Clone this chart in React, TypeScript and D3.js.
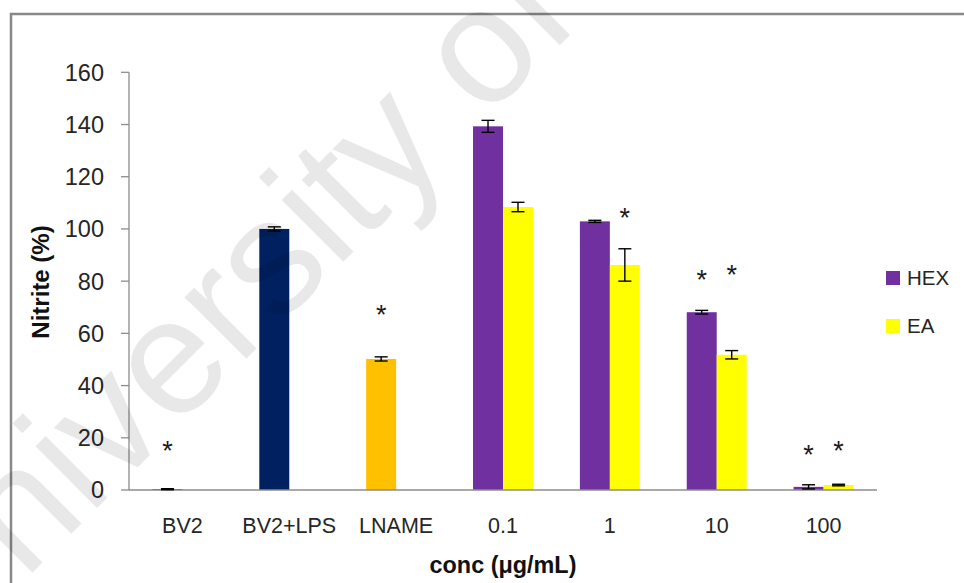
import React from 'react';
import * as d3 from 'd3';

// categories on the x axis
const categories = ["BV2", "BV2+LPS", "LNAME", "0.1", "1", "10", "100"];

// control bars (first slot, own colours)
const controlValues = [0.3, 100, 50.2, null, null, null, null];
const controlErrors = [0.2, 0.8, 0.8, null, null, null, null];
const controlColors = ["#002060", "#002060", "#FFC000", null, null, null, null];

// extracts
const hexValues = [null, null, null, 139.3, 102.9, 68.1, 1.2];
const hexErrors = [null, null, null, 2.3, 0.4, 0.7, 0.8];
const eaValues = [null, null, null, 108.4, 86.2, 51.8, 1.9];
const eaErrors = [null, null, null, 1.8, 6.2, 1.6, 0.3];

const yTicks = [0, 20, 40, 60, 80, 100, 120, 140, 160];

// significance marks
const starCategories = ["BV2", "LNAME", "1", "10", "10", "100", "100"];
const starSlots = ["a", "a", "b", "a", "b", "a", "b"];
const starLevels = [18, 70, 107, 83.3, 85.2, 16.5, 18];

const legendNames = ["HEX", "EA"];
const legendColors = ["#7030A0", "#FFFF00"];

const W = 964;
const H = 583;
const FONT = "'Liberation Sans', Arial, sans-serif";

const App: React.FC = () => {
    const x = d3.scaleBand<string>()
        .domain(categories)
        .range([129, 877])
        .paddingInner(0.439)
        .paddingOuter(0.2195);

    const slot = d3.scaleBand<string>()
        .domain(["a", "b"])
        .range([0, x.bandwidth()]);

    const y = d3.scaleLinear()
        .domain([0, 160])
        .range([490, 72.3]);

    const bars: { cat: string; s: string; v: number; e: number; c: string }[] = [];
    categories.forEach((cat, i) => {
        if (controlValues[i] != null) bars.push({ cat, s: "a", v: controlValues[i] as number, e: controlErrors[i] as number, c: controlColors[i] as string });
        if (hexValues[i] != null) bars.push({ cat, s: "a", v: hexValues[i] as number, e: hexErrors[i] as number, c: legendColors[0] });
        if (eaValues[i] != null) bars.push({ cat, s: "b", v: eaValues[i] as number, e: eaErrors[i] as number, c: legendColors[1] });
    });

    const gray = "#8c8c8c";

    return (
        <svg width={W} height={H} style={{ position: "absolute", left: 0, top: 0, background: "white" }}>
            {/* outer chart frame */}
            <rect x={11} y={14} width={970} height={600} fill="white" stroke="#888" strokeWidth={2.5} />

            {/* y axis */}
            <line x1={129} x2={129} y1={y(160)} y2={y(0)} stroke={gray} strokeWidth={1.3} />
            {yTicks.map(t => (
                <g key={t}>
                    <line x1={121} x2={129} y1={y(t)} y2={y(t)} stroke={gray} strokeWidth={1.3} />
                    <text x={104} y={y(t)} dy="0.36em" textAnchor="end" fontFamily={FONT} fontSize={23.5} fill="#262626">{t}</text>
                </g>
            ))}

            {/* bars */}
            {bars.map((b, i) => (
                <rect key={i} x={(x(b.cat) as number) + (slot(b.s) as number)} y={y(b.v)}
                    width={slot.bandwidth()} height={y(0) - y(b.v)} fill={b.c} />
            ))}

            {/* x axis */}
            <line x1={129} x2={877} y1={y(0)} y2={y(0)} stroke={gray} strokeWidth={1.3} />
            {categories.map(c => (
                <text key={c} x={(x(c) as number) + x.bandwidth() / 2} y={533} textAnchor="middle"
                    fontFamily={FONT} fontSize={21.5} fill="#262626">{c}</text>
            ))}

            {/* error bars */}
            {bars.map((b, i) => {
                const cx = (x(b.cat) as number) + (slot(b.s) as number) + slot.bandwidth() / 2;
                return (
                    <g key={i} stroke="black" strokeWidth={1.4}>
                        <line x1={cx} x2={cx} y1={y(b.v + b.e)} y2={y(b.v - b.e)} />
                        <line x1={cx - 6.5} x2={cx + 6.5} y1={y(b.v + b.e)} y2={y(b.v + b.e)} />
                        <line x1={cx - 6.5} x2={cx + 6.5} y1={y(b.v - b.e)} y2={y(b.v - b.e)} />
                    </g>
                );
            })}

            {/* stars */}
            {starCategories.map((c, i) => (
                <text key={i} x={(x(c) as number) + (slot(starSlots[i]) as number) + slot.bandwidth() / 2}
                    y={y(starLevels[i])} dy="0.62em" textAnchor="middle" fontFamily={FONT} fontSize={27} fill="#1a1a1a">*</text>
            ))}

            {/* axis titles */}
            <text transform="translate(49,282) rotate(-90)" textAnchor="middle" fontFamily={FONT}
                fontSize={24} fontWeight="bold" fill="#111">Nitrite (%)</text>
            <text x={503} y={573} textAnchor="middle" fontFamily={FONT} fontSize={23.4} fontWeight="bold" fill="#111">conc (μg/mL)</text>

            {/* legend */}
            {legendNames.map((n, i) => (
                <g key={n} transform={`translate(886,${271 + i * 48})`}>
                    <rect width={14} height={14} fill={legendColors[i]} />
                    <text x={21} y={7} dy="0.36em" fontFamily={FONT} fontSize={20.5} fill="#262626">{n}</text>
                </g>
            ))}

            {/* watermark */}
            <text transform="translate(-60,665) rotate(-45)" fontFamily={FONT} fontSize={165}
                fill="black" fillOpacity={0.09}>University of Malaya</text>
        </svg>
    );
};

export default App;
